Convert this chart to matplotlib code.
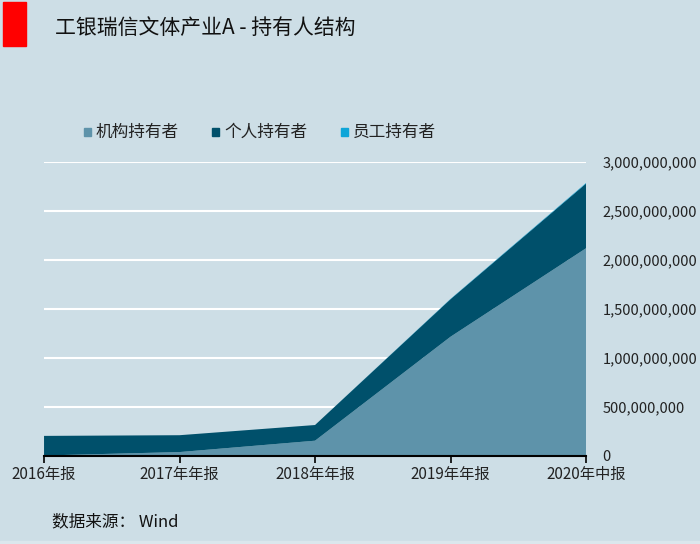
import matplotlib
matplotlib.use('Agg')
import matplotlib.pyplot as plt
import matplotlib.patches as mpatches
import numpy as np
from matplotlib.ticker import FuncFormatter

plt.rcParams['font.family'] = ['Noto Sans CJK SC', 'DejaVu Sans']

# data
periods = ['2016年报', '2017年年报', '2018年年报', '2019年年报', '2020年中报']
institution = [5e6, 40e6, 156e6, 1.217e9, 2.12e9]
individual = [200e6, 172e6, 160e6, 383e6, 660e6]
employee = [0, 0, 0, 3e6, 6e6]
series_names = ['机构持有者', '个人持有者', '员工持有者']
colors = ['#5e93aa', '#00506b', '#0ea5d8']

bg = '#cddee6'
fig = plt.figure(figsize=(7, 5.44), dpi=100, facecolor=bg)
ax = fig.add_axes([0.0629, 0.1618, 0.7743, 0.5404])
ax.set_facecolor(bg)

x = np.arange(len(periods))
ax.stackplot(x, institution, individual, employee, colors=colors, linewidth=0)

ax.set_xlim(0, len(periods) - 1)
ax.set_ylim(0, 3e9)
ax.set_yticks(np.arange(0, 3.01e9, 5e8))
ax.yaxis.set_major_formatter(FuncFormatter(lambda v, p: f'{int(v):,}'))
ax.yaxis.tick_right()
ax.tick_params(axis='y', length=0, pad=12, labelsize=10.5, colors='#222222')
ax.set_xticks(x)
ax.set_xticklabels(periods)
ax.tick_params(axis='x', length=5, width=1.2, direction='out', labelsize=11, colors='black', pad=2)
for lbl in ax.get_xticklabels():
    lbl.set_color('#222222')

ax.grid(axis='y', color='white', linewidth=1.5)
ax.set_axisbelow(True)
for s in ['top', 'left', 'right']:
    ax.spines[s].set_visible(False)
ax.spines['bottom'].set_linewidth(1.5)
ax.spines['bottom'].set_color('black')

# title + red marker
fig.patches.append(mpatches.Rectangle((3 / 700, 1 - 46 / 544), 23 / 700, 44 / 544,
                                      transform=fig.transFigure, color='#ff0000'))
fig.text(55 / 700, 1 - 28 / 544, '工银瑞信文体产业A - 持有人结构', fontsize=15,
         va='center', ha='left', color='#111111')

# legend, drawn by hand to match spacing
leg_x = [84, 212, 341]
for lx, c, n in zip(leg_x, colors, series_names):
    fig.patches.append(mpatches.Rectangle((lx / 700, 1 - 136 / 544), 7 / 700, 8 / 544,
                                          transform=fig.transFigure, color=c))
    fig.text((lx + 12) / 700, 1 - 132 / 544, n, fontsize=12, va='center', ha='left',
             color='#222222')

fig.text(52 / 700, 1 - 522 / 544, '数据来源： Wind', fontsize=12, va='center',
         ha='left', color='#111111')

# thin lighter strip at the very bottom
fig.patches.append(mpatches.Rectangle((0, 0), 1, 3 / 544, transform=fig.transFigure,
                                      color='#dbe7ed'))

fig.savefig('out.png', dpi=100, facecolor=bg)
